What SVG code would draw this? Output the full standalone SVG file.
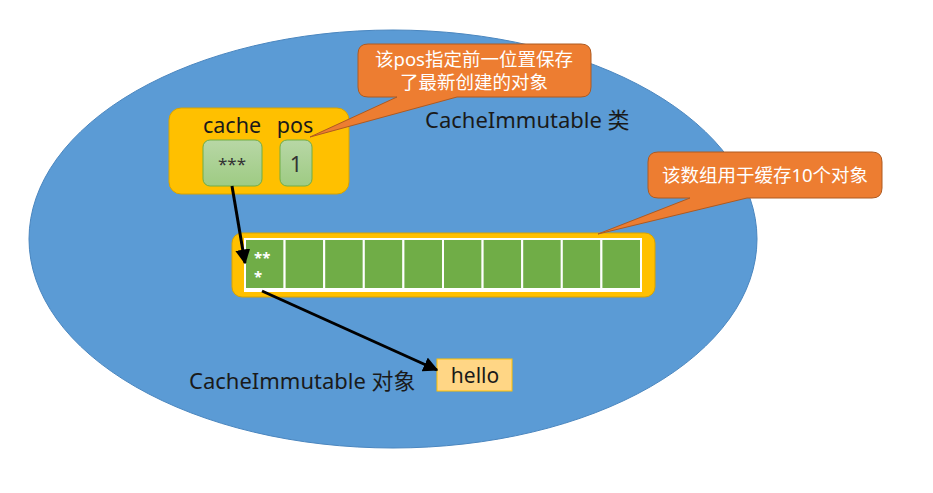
<svg xmlns="http://www.w3.org/2000/svg" width="933" height="493" viewBox="0 0 933 493">
<defs>
<linearGradient id="g" x1="0" y1="0" x2="0" y2="1"><stop offset="0" stop-color="#B8D7A6"/><stop offset="1" stop-color="#9ECB83"/></linearGradient>
<marker id="ah" viewBox="0 0 10 10" refX="9" refY="5" markerWidth="5" markerHeight="5" orient="auto"><path d="M0,0 L10,5 L0,10 z" fill="#000"/></marker>
</defs>
<style>
text{font-family:"Noto Sans","Noto Sans CJK SC",sans-serif}
.t{font-size:22px;fill:#1a1a1a}
.f{font-size:21.5px;fill:#1a1a1a}
.w{font-size:18.5px;fill:#fff}
.call{fill:#ED7D31;stroke:#AE5A21;stroke-width:1}
.yel{fill:#FFC000;stroke:#D9A300;stroke-width:1}
.gb{fill:url(#g);stroke:#70AD47;stroke-width:1}
.cell{fill:#70AD47;stroke:#fff;stroke-width:2}
.conn{stroke:#000;stroke-width:3;fill:none;marker-end:url(#ah)}
</style>
<rect width="933" height="493" fill="#fff"/>
<g id="class-ellipse">
<ellipse cx="393" cy="239" rx="364" ry="209" fill="#5B9BD5" stroke="#4A86BF" stroke-width="1"/>
<text class="t" x="425" y="128">CacheImmutable 类</text>
<text class="t" x="189" y="389">CacheImmutable 对象</text>
</g>
<g id="fields">
<rect class="yel" x="169" y="108" width="180" height="86" rx="12"/>
<text class="f" x="232" y="133" text-anchor="middle">cache</text>
<text class="f" x="295" y="133" text-anchor="middle">pos</text>
<rect class="gb" x="203" y="140" width="59" height="46" rx="7"/>
<text x="232" y="170" text-anchor="middle" style="font-size:17px;fill:#333">***</text>
<rect class="gb" x="280" y="140" width="32" height="46" rx="7"/>
<text x="296" y="172" text-anchor="middle" style="font-size:22px;fill:#333">1</text>
</g>
<g id="array">
<rect class="yel" x="232" y="233" width="423" height="64" rx="10"/>
<rect x="244" y="238" width="398" height="54" fill="#fff"/>
<g>
<rect class="cell" x="245" y="239" width="39.6" height="50"/>
<rect class="cell" x="284.6" y="239" width="39.6" height="50"/>
<rect class="cell" x="324.2" y="239" width="39.6" height="50"/>
<rect class="cell" x="363.8" y="239" width="39.6" height="50"/>
<rect class="cell" x="403.4" y="239" width="39.6" height="50"/>
<rect class="cell" x="443" y="239" width="39.6" height="50"/>
<rect class="cell" x="482.6" y="239" width="39.6" height="50"/>
<rect class="cell" x="522.2" y="239" width="39.6" height="50"/>
<rect class="cell" x="561.8" y="239" width="39.6" height="50"/>
<rect class="cell" x="601.4" y="239" width="39.6" height="50"/>
</g>
<text x="254" y="263" style="font-size:15px;fill:#fff;font-weight:bold">**</text>
<text x="254" y="282" style="font-size:15px;fill:#fff;font-weight:bold">*</text>
</g>
<g id="hello">
<rect x="437" y="359" width="75" height="32" fill="#FFD685" stroke="#FFC000" stroke-width="1"/>
<text x="475" y="383" text-anchor="middle" style="font-size:21px;fill:#1a1a1a">hello</text>
</g>
<g id="callout-pos">
<path class="call" d="M368,44 H581 Q591,44 591,54 V87 Q591,97 581,97 H457 L310,137 L397,97 H368 Q358,97 358,87 V54 Q358,44 368,44 Z"/>
<text class="w" x="474" y="66" text-anchor="middle">该pos指定前一位置保存</text>
<text class="w" x="474" y="89" text-anchor="middle">了最新创建的对象</text>
</g>
<g id="callout-array">
<path class="call" d="M658,152 H872 Q882,152 882,162 V188 Q882,198 872,198 H747 L598,234 L690,198 H658 Q648,198 648,188 V162 Q648,152 658,152 Z"/>
<text class="w" x="765" y="182" text-anchor="middle">该数组用于缓存10个对象</text>
</g>
<g id="connectors">
<line class="conn" x1="232" y1="186" x2="245" y2="263"/>
<line class="conn" x1="262" y1="291" x2="437" y2="370"/>
</g>
</svg>
